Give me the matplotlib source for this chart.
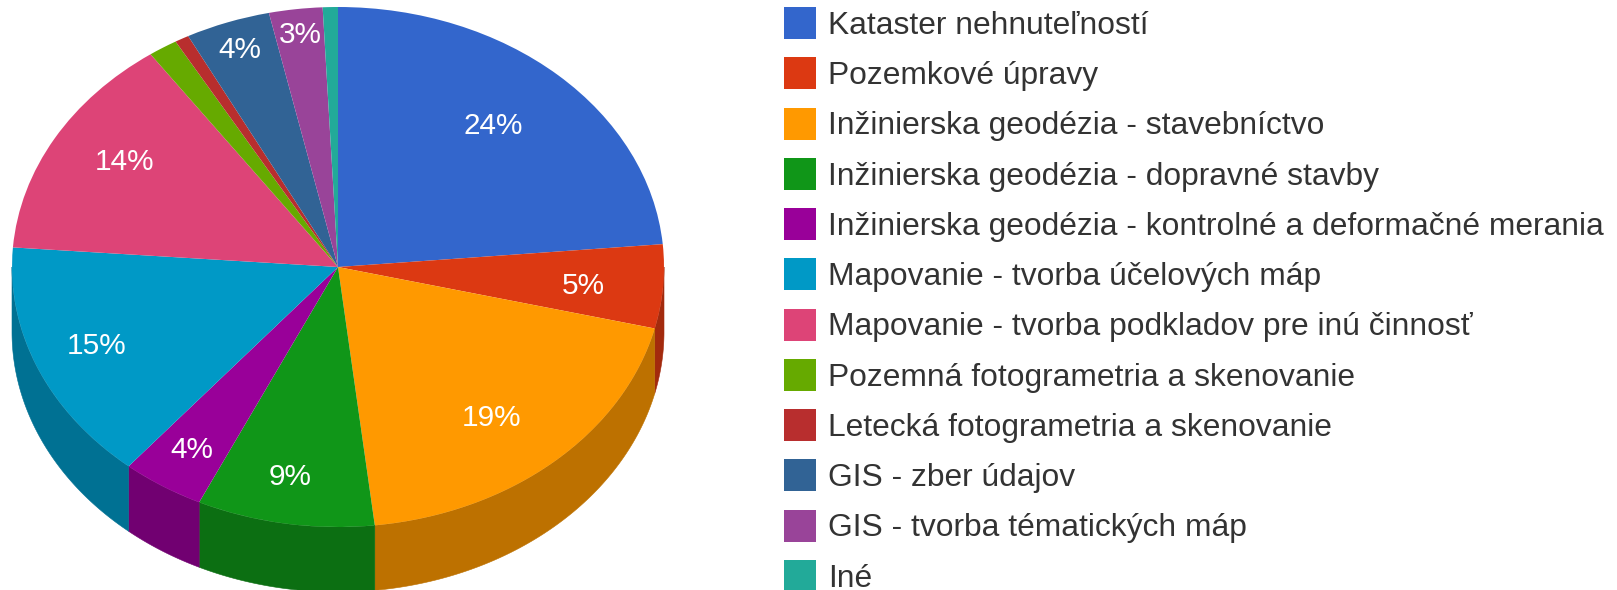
import numpy as np
import matplotlib
matplotlib.use("Agg")
import matplotlib.pyplot as plt
from matplotlib.colors import to_rgb
from matplotlib.patches import Patch, Polygon

plt.rcParams['font.family'] = ['Liberation Sans', 'DejaVu Sans']

categories = [
    "Kataster nehnuteľností",
    "Pozemkové úpravy",
    "Inžinierska geodézia - stavebníctvo",
    "Inžinierska geodézia - dopravné stavby",
    "Inžinierska geodézia - kontrolné a deformačné merania",
    "Mapovanie - tvorba účelových máp",
    "Mapovanie - tvorba podkladov pre inú činnosť",
    "Pozemná fotogrametria a skenovanie",
    "Letecká fotogrametria a skenovanie",
    "GIS - zber údajov",
    "GIS - tvorba tématických máp",
    "Iné",
]
values = [23.6, 5.2, 19.4, 8.8, 4.1, 15.1, 14.05, 1.45, 0.7, 4.2, 2.65, 0.75]
colors = ["#3366CC", "#DC3912", "#FF9900", "#109618", "#990099", "#0099C6",
          "#DD4477", "#66AA00", "#B82E2E", "#316395", "#994499", "#22AA99"]

# layout (pixels in the 1617x590 figure)
W, H = 1617, 590
CX, CY, RX, RY, DEPTH = 338, 267, 326, 260, 65
label_radius = [.73, .75, .745, .82, .835, .80, .77, 0, 0, .89, .90, 0]
label_nudge_px = [(-6, -1), (1, 4), (-7, 6), (-4, 0), (0, 0), (-1, -2),
                  (5, -6), (0, 0), (0, 0), (0, 1), (0, 0), (0, 0)]
SHADE = 0.74
FS = 22.9
LABEL_FS = 21.4

fig = plt.figure(figsize=(W / 100, H / 100), dpi=100)
ax = fig.add_axes([0, 0, 1, 1])

wedges, _, autotexts = ax.pie(
    values, colors=colors, startangle=90, counterclock=False, radius=1,
    wedgeprops=dict(linewidth=0.4, zorder=3),
    autopct=lambda p: f"{p:.0f}%" if p >= 2.5 else "",
    textprops=dict(color="white", fontsize=LABEL_FS, zorder=4),
)
ax.set_aspect("auto")
ax.set_xlim(-CX / RX, (W - CX) / RX)
ax.set_ylim(-(H - CY) / RY, CY / RY)

# extruded side wall of each slice (angles clockwise from the top)
edges = np.cumsum([0] + values) / sum(values) * 2 * np.pi
depth = DEPTH / RY
for a0, a1, col in zip(edges[:-1], edges[1:], colors):
    lo, hi = max(a0, np.pi / 2), min(a1, 3 * np.pi / 2)
    if hi <= lo:
        continue
    t = np.linspace(lo, hi, 80)
    x, y = np.sin(t), np.cos(t)
    pts = np.r_[np.c_[x, y], np.c_[x, y - depth][::-1]]
    side = tuple(c * SHADE for c in to_rgb(col))
    ax.add_patch(Polygon(pts, closed=True, facecolor=side, edgecolor=side,
                         linewidth=0.4, zorder=2))

# percentage labels
mids = (edges[:-1] + edges[1:]) / 2
for txt, m, r, (dx, dy) in zip(autotexts, mids, label_radius, label_nudge_px):
    txt.set_position((r * np.sin(m) + dx / RX, r * np.cos(m) - dy / RY))
    txt.set_ha("center")
    txt.set_va("center")

# legend
fs_px = FS * 100 / 72
handles = [Patch(facecolor=c, edgecolor="none") for c in colors]
leg = fig.legend(
    handles, categories, loc="upper left",
    bbox_to_anchor=(784 / W, 1 - 7 / H), bbox_transform=fig.transFigure,
    frameon=False, fontsize=FS, labelcolor="#333333",
    borderaxespad=0, borderpad=0,
    handlelength=32 / fs_px, handleheight=1.171,
    handletextpad=12 / fs_px, labelspacing=0.519,
)

fig.savefig("out.png", dpi=100)
